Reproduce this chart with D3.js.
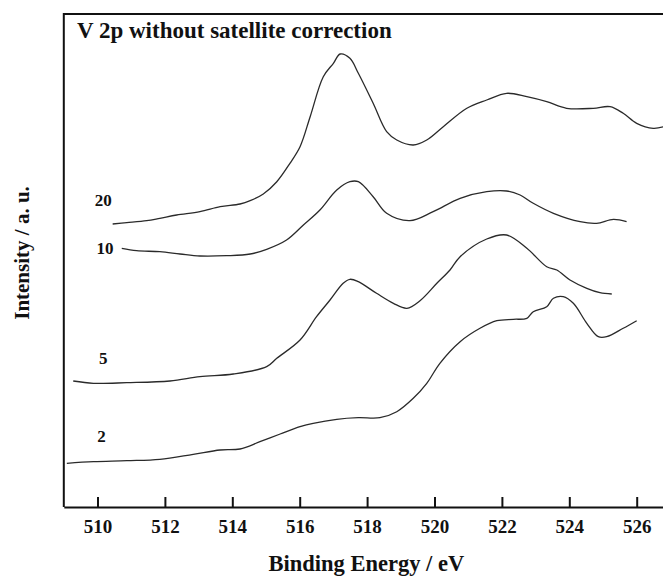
<!DOCTYPE html>
<html>
<head>
<meta charset="utf-8">
<script src="https://cdn.jsdelivr.net/npm/d3@7"></script>
<style>
  html, body { margin: 0; padding: 0; background: #fff; }
  svg { display: block; }
  text { font-family: "Liberation Serif", "DejaVu Serif", serif; font-weight: bold; fill: #111; }
</style>
</head>
<body>
<svg id="chart" width="663" height="576"></svg>
<script>
// ---------- data (binding energy in eV, intensity in arbitrary units) ----------
const xTicks = [510, 512, 514, 516, 518, 520, 522, 524, 526];
const seriesNames = ["20", "10", "5", "2"];

const energy20 = [510.45,510.87,511.46,511.85,512.35,513.04,513.64,514.23,514.53,514.92,515.32,515.71,516.01,516.31,516.70,517.00,517.20,517.49,517.74,518.18,518.58,518.88,519.37,519.77,520.26,520.96,521.55,522.14,522.74,523.33,523.92,524.71,525.21,525.60,526.00,526.49,526.80];
const inten20  = [283,284.3,286.3,288.7,292,295.3,300.3,303,306.3,313,325.3,343.7,360.3,390.3,430.3,443.7,453,448.7,433.7,403.7,375.3,367,362,367,380.3,398.7,407,413.7,410.3,405.3,398.7,398.7,400.3,393.7,383.7,378.7,380.3];

const energy10 = [510.72,511.16,511.85,512.45,513.04,513.83,514.53,515.02,515.61,516.11,516.60,517.10,517.49,517.74,518.18,518.58,519.27,519.96,520.76,521.55,522.14,522.54,522.93,523.53,524.32,524.81,525.31,525.70];
const inten10  = [258.7,256.3,255.3,253,251,251.3,253,257.7,267,282,297,317,325.3,325.3,310.3,293.7,286.3,295.3,308.7,315.3,316,312,303.7,293.7,285.3,283.7,287.7,285.3];

const energy5 = [509.28,509.88,510.87,512.15,513.04,514.03,515.02,515.32,516.01,516.50,516.90,517.29,517.49,517.74,518.28,518.78,519.18,519.57,520.07,520.46,520.76,521.55,522.14,522.74,523.33,523.63,524.02,524.52,524.91,525.26];
const inten5  = [126,123.7,124.3,126,130.3,133,140.3,148.7,167,190.3,207,223.7,227.7,225.3,213.7,203.7,198.7,206.3,223.7,237,250.3,268,272,258.7,240.3,237,227,218.7,214.3,213];

const energy2 = [509.09,509.88,510.87,511.85,512.84,513.64,514.23,514.82,515.42,516.01,516.40,517.10,517.74,518.38,518.88,519.37,519.77,520.16,520.76,521.35,521.85,522.34,522.74,522.93,523.33,523.53,523.82,524.12,524.52,524.86,525.11,525.60,526.00];
const inten2  = [43.7,45.3,46.3,47.7,52.7,57,58,65.3,73,80.3,83.7,87.7,89.3,89.3,95.3,108.7,123.7,143.7,165.3,178.7,186.3,187.7,188.7,195.3,200.3,208.7,210.3,203.7,183.7,170.3,170.3,178.7,186.3];

const labelEnergy = [510.17, 510.22, 510.17, 510.12];
const labelInten  = [301, 253, 143, 65];

// ---------- layout ----------
const svg = d3.select("#chart");
const padL = 63.8, padR = 670.4, padT = 14, padB = 507;

const x = d3.scaleLinear().domain([509, 527]).range([padL, padR]);
const y = d3.scaleLinear().domain([0, 493]).range([padB, padT]);

const series = [
  energy20.map((e, i) => [e, inten20[i]]),
  energy10.map((e, i) => [e, inten10[i]]),
  energy5.map((e, i) => [e, inten5[i]]),
  energy2.map((e, i) => [e, inten2[i]])
];

const line = d3.line()
  .x(d => x(d[0]))
  .y(d => y(d[1]))
  .curve(d3.curveCatmullRom.alpha(0.5));

svg.append("g")
  .selectAll("path")
  .data(series)
  .join("path")
  .attr("d", line)
  .attr("fill", "none")
  .attr("stroke", "#2a2a2a")
  .attr("stroke-width", 1.3);

// series labels
svg.append("g")
  .selectAll("text")
  .data(seriesNames)
  .join("text")
  .attr("x", (d, i) => x(labelEnergy[i]))
  .attr("y", (d, i) => y(labelInten[i]))
  .attr("text-anchor", "middle")
  .attr("font-size", 17)
  .text(d => d);

// frame
svg.append("path")
  .attr("d", `M${padR},${padT}H${padL}V${padB}`)
  .attr("fill", "none")
  .attr("stroke", "#111")
  .attr("stroke-width", 2);

// bottom axis
const xAxis = d3.axisBottom(x)
  .tickValues(xTicks)
  .tickFormat(d3.format("d"))
  .tickSizeInner(-10)
  .tickSizeOuter(0)
  .tickPadding(13);

const gx = svg.append("g")
  .attr("transform", `translate(0,${padB})`)
  .call(xAxis);
gx.select(".domain").attr("stroke", "#111").attr("stroke-width", 2);
gx.selectAll(".tick line").attr("stroke", "#111").attr("stroke-width", 2);
gx.selectAll(".tick text")
  .attr("font-family", "Liberation Serif, serif")
  .attr("font-weight", "bold")
  .attr("font-size", 19)
  .attr("fill", "#111");

// titles
svg.append("text")
  .attr("x", 77)
  .attr("y", 38)
  .attr("font-size", 23)
  .text("V 2p without satellite correction");

svg.append("text")
  .attr("x", (padL + 663) / 2 + 3)
  .attr("y", 571)
  .attr("text-anchor", "middle")
  .attr("font-size", 22.5)
  .text("Binding Energy / eV");

svg.append("text")
  .attr("transform", `translate(22,253) rotate(-90)`)
  .attr("text-anchor", "middle")
  .attr("dominant-baseline", "central")
  .attr("font-size", 21)
  .text("Intensity / a. u.");
</script>
</body>
</html>
